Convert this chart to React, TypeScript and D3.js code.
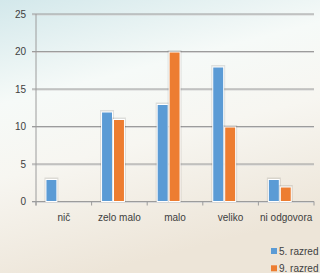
import React, { useEffect, useRef } from "react";
import * as d3 from "d3";

const categories = ["nič", "zelo malo", "malo", "veliko", "ni odgovora"];
const seriesNames = ["5. razred", "9. razred"];
const razred5 = [3, 12, 13, 18, 3];
const razred9 = [0, 11, 20, 10, 2];
const yTicks = [0, 5, 10, 15, 20, 25];
const colors = ["#5b9bd5", "#ed7d31"];

const W = 320;
const H = 273;

const App = () => {
  const svgRef = useRef<SVGSVGElement | null>(null);

  useEffect(() => {
    const svg = d3.select(svgRef.current);
    svg.selectAll("*").remove();

    // background gradient
    const defs = svg.append("defs");
    const grad = defs
      .append("linearGradient")
      .attr("id", "bg")
      .attr("x1", "0")
      .attr("y1", "0")
      .attr("x2", "0.3")
      .attr("y2", "1");
    grad.append("stop").attr("offset", "0").attr("stop-color", "#d3e8eb");
    grad.append("stop").attr("offset", "0.35").attr("stop-color", "#f6faf8");
    grad.append("stop").attr("offset", "0.6").attr("stop-color", "#f7f6f1");
    grad.append("stop").attr("offset", "1").attr("stop-color", "#ede5d8");
    svg.append("rect").attr("width", W).attr("height", H).attr("fill", "url(#bg)");

    const left = 36;
    const right = 314;
    const top = 14;
    const bottom = 201.5;

    const x0 = d3.scaleBand().domain(categories).range([left, right]);
    const bw = x0.bandwidth();
    // third (empty) slot leaves space on the right of each group
    const x1 = d3
      .scaleBand()
      .domain(seriesNames)
      .range([bw * 0.17, bw * 0.17 + bw * 0.43]);
    const y = d3.scaleLinear().domain([0, 25]).range([bottom, top]);

    const font = "'Liberation Sans', Arial, sans-serif";

    // gridlines
    const grid = svg.append("g");
    yTicks.forEach((t) => {
      grid
        .append("line")
        .attr("x1", left - 4)
        .attr("x2", right)
        .attr("y1", y(t) + 1)
        .attr("y2", y(t) + 1)
        .attr("stroke", "#d6d6d6")
        .attr("stroke-width", 1);
      grid
        .append("line")
        .attr("x1", left - 4)
        .attr("x2", right)
        .attr("y1", y(t))
        .attr("y2", y(t))
        .attr("stroke", "#9c9c9c")
        .attr("stroke-width", 1);
      grid
        .append("text")
        .attr("x", 26)
        .attr("y", y(t))
        .attr("dy", "0.35em")
        .attr("text-anchor", "end")
        .attr("font-family", font)
        .attr("font-size", "10px")
        .attr("fill", "#404040")
        .text(t);
    });

    // y axis line
    svg
      .append("line")
      .attr("x1", left)
      .attr("x2", left)
      .attr("y1", top)
      .attr("y2", bottom + 4)
      .attr("stroke", "#9c9c9c");

    // x tick marks
    const ticks = [...categories.map((c) => x0(c) as number), right];
    ticks.forEach((tx) => {
      svg
        .append("line")
        .attr("x1", tx)
        .attr("x2", tx)
        .attr("y1", bottom)
        .attr("y2", bottom + 4)
        .attr("stroke", "#9c9c9c");
    });

    const rows = categories.map((c, i) => ({
      cat: c,
      vals: [razred5[i], razred9[i]],
    }));

    // bars
    rows.forEach((r) => {
      r.vals.forEach((v, si) => {
        if (v <= 0) return;
        const bx = (x0(r.cat) as number) + (x1(seriesNames[si]) as number);
        const by = y(v);
        const bwid = x1.bandwidth();
        // soft shadow
        svg
          .append("rect")
          .attr("x", bx - 1)
          .attr("y", by - 1.5)
          .attr("width", bwid + 2)
          .attr("height", bottom - by + 1.5)
          .attr("fill", "#000")
          .attr("opacity", 0.1);
        svg
          .append("rect")
          .attr("x", bx + 0.5)
          .attr("y", by + 0.5)
          .attr("width", bwid - 1)
          .attr("height", bottom - by - 0.5)
          .attr("fill", colors[si])
          .attr("stroke", "#fff")
          .attr("stroke-width", 1);
      });
    });

    // category labels
    categories.forEach((c) => {
      svg
        .append("text")
        .attr("x", (x0(c) as number) + bw / 2)
        .attr("y", 221)
        .attr("text-anchor", "middle")
        .attr("font-family", font)
        .attr("font-size", "10px")
        .attr("fill", "#404040")
        .text(c);
    });

    // legend
    seriesNames.forEach((s, i) => {
      const ly = 251 + i * 17.3;
      svg
        .append("rect")
        .attr("x", 271)
        .attr("y", ly - 3)
        .attr("width", 6)
        .attr("height", 6)
        .attr("fill", colors[i]);
      svg
        .append("text")
        .attr("x", 279)
        .attr("y", ly)
        .attr("dy", "0.35em")
        .attr("font-family", font)
        .attr("font-size", "10px")
        .attr("fill", "#404040")
        .text(s);
    });
  }, []);

  return (
    <svg
      ref={svgRef}
      width={W}
      height={H}
      style={{ position: "absolute", left: 0, top: 0, display: "block" }}
    />
  );
};

export default App;
